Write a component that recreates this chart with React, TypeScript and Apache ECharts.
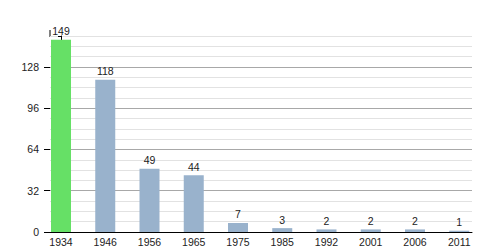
import React, { useEffect, useRef } from "react";
import * as echarts from "echarts";

const years = ["1934", "1946", "1956", "1965", "1975", "1985", "1992", "2001", "2006", "2011"];
const population = [149, 118, 49, 44, 7, 3, 2, 2, 2, 1];
const yMajorTicks = [0, 32, 64, 96, 128];

export default function App() {
  const ref = useRef<HTMLDivElement>(null);
  useEffect(() => {
    if (!ref.current) return;
    document.body.style.margin = "0";
    const chart = echarts.init(ref.current, null, { renderer: "svg" });
    const data = population.map((v, i) => ({
      value: [i, v],
      itemStyle: { color: i === 0 ? "#66e066" : "#99b2cc" },
    }));
    const gridColors = ["#a8a8a8", "#e2e2e2", "#e2e2e2", "#e2e2e2"];
    chart.setOption({
      animation: false,
      grid: { left: 50, right: 28, top: 36, bottom: 18, containLabel: false },
      xAxis: {
        type: "value",
        min: -0.2486,
        max: 9.288,
        splitLine: { show: false },
        axisLine: { show: true, onZero: false, lineStyle: { color: "#000", width: 1 } },
        axisTick: { show: false },
        axisLabel: {
          customValues: years.map((_, i) => i),
          formatter: (v: number) => years[Math.round(v)] ?? "",
          color: "#222",
          fontSize: 10.5,
          fontFamily: "Liberation Sans, Arial, sans-serif",
          margin: 4,
        },
      },
      yAxis: [
        {
          type: "value",
          min: 0,
          max: 152,
          interval: 8,
          axisLine: { show: true, lineStyle: { color: "#000", width: 1 } },
          axisTick: { show: true, length: 3, lineStyle: { color: "#000" } },
          splitLine: { show: true, lineStyle: { color: gridColors, width: 1 } },
          axisLabel: {
            customValues: yMajorTicks,
            color: "#222",
            fontSize: 10.5,
            fontFamily: "Liberation Sans, Arial, sans-serif",
            margin: 11,
          },
        },
        {
          type: "value",
          min: 0,
          max: 152,
          position: "left",
          axisLine: { show: false },
          axisTick: { show: true, length: 6, customValues: yMajorTicks, lineStyle: { color: "#000" } },
          splitLine: { show: false },
          axisLabel: { show: false },
        },
      ],
      graphic: [
        {
          type: "line",
          shape: { x1: 50, y1: 30, x2: 50, y2: 37 },
          style: { stroke: "#000", lineWidth: 1 },
        },
      ],
      series: [
        {
          type: "bar",
          yAxisIndex: 0,
          barWidth: 20,
          data,
          label: {
            show: true,
            position: "top",
            distance: 3,
            formatter: (p: any) => String(p.value[1]),
            color: "#222",
            fontSize: 10.5,
            fontFamily: "Liberation Sans, Arial, sans-serif",
          },
        },
      ],
    });
    return () => chart.dispose();
  }, []);
  return <div ref={ref} style={{ width: 500, height: 250, position: "absolute", left: 0, top: 0 }} />;
}
